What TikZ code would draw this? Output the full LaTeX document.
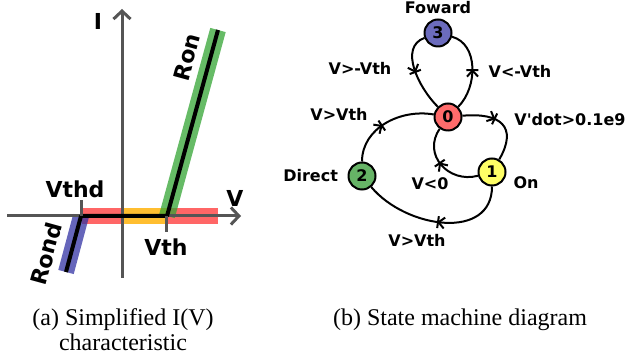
\documentclass[tikz,border=0pt]{standalone}
\usepackage{fontspec}
\setmainfont{Liberation Serif}
\setsansfont{DejaVu Sans}
\usetikzlibrary{arrows.meta,positioning,decorations.markings}
\definecolor{axgray}{HTML}{555555}
\definecolor{bred}{HTML}{FF0000}
\definecolor{byellow}{HTML}{FFBE30}
\definecolor{bgreen}{HTML}{33A433}
\definecolor{bblue}{HTML}{3333A4}
\definecolor{sblue}{HTML}{6B6BBD}
\definecolor{sred}{HTML}{FF6B6B}
\definecolor{syellow}{HTML}{FFFF66}
\definecolor{sgreen}{HTML}{66B366}
\tikzset{
  % axes and bands of the I(V) plot
  axis/.style  = {line width=3pt, draw=axgray, -{Straight Barb[length=8pt,width=17pt]}},
  band/.style  = {line width=16pt, draw=#1},
  curve/.style = {line width=4pt, black, line join=round},
  vtick/.style = {line width=3pt, axgray},
  plbl/.style  = {font=\fontsize{22}{22}\selectfont\sffamily\bfseries},
  % state machine
  state/.style = {circle, draw=black, line width=2pt, fill=#1, minimum size=27pt, inner sep=0pt,
                  font=\fontsize{16}{16}\selectfont\sffamily\bfseries},
  trans/.style = {line width=2pt, postaction={decorate}, decoration={markings,
                  mark=at position #1 with {\arrow{Straight Barb[length=6pt,width=11pt]}\arrow{Bar[width=12pt]}}}},
  trans/.default = .5,
  tlbl/.style  = {font=\fontsize{16}{16}\selectfont\sffamily\bfseries},
  subcap/.style = {font=\fontsize{24}{25}\selectfont, align=center, anchor=north},
}

\begin{document}
\begin{tikzpicture}[x=1pt,y=1pt]
\useasboundingbox (0,0) rectangle (631,358);
% I(V) characteristic
\coordinate (bot) at (66,86);
\coordinate (vthd) at (81,142);
\coordinate (vth) at (167,142);
\coordinate (top) at (218,328);
\draw[band=bred, opacity=.6] (82,142) -- (218,142);
\draw[band=byellow] (122,142) -- (vth);
\draw[band=bgreen, opacity=.75] (vth) -- (top);
\draw[band=bblue, opacity=.75] (bot) -- (vthd);
\draw[axis] (7,142) -- (241,142);
\draw[axis] (122,80) -- (122,349);
\node[plbl] (vlbl) at (235,160) {V};
\node[plbl] (ilbl) at (98,337) {I};
\draw[curve] (bot) -- (vthd) -- (vth) -- (top);
\draw[vtick] (vthd) -- ++(0,16);
\draw[vtick] (vth) ++(-1,0) -- ++(0,-16);
\node[plbl] (vthdlbl) at (75,169) {Vthd};
\node[plbl] (vthlbl) at (166,111) {Vth};
\node[plbl, rotate=74.7] (ronlbl) at (187,301) {Ron};
\node[plbl, rotate=74.7] (rondlbl) at (46,104) {Rond};
% state machine
\node[state=sblue] (n3) at (438,325) {3};
\node[state=sred] (n0) at (448,241) {0};
\node[state=syellow] (n1) at (492,186) {1};
\node[state=sgreen] (n2) at (362,182) {2};
\node[tlbl, above=1pt of n3] (fwd) {Foward};
\node[tlbl, left=6pt of n2] (dir) {Direct};
\node[tlbl] (on) at (526,175) {On};
\draw[trans] (n3) to[out=200,in=135] (n0);
\draw[trans] (n0) to[out=45,in=-15] (n3);
\draw[trans=.42] (n0) to[out=5,in=60,looseness=1.7] (n1);
\draw[trans=.55] (n1) to[out=195,in=235,looseness=1.3] (n0);
\draw[trans] (n1) to[out=270,in=-50,looseness=1.15] (n2);
\draw[trans=.45] (n2) to[out=90,in=170] (n0);
\node[tlbl] (t30) at (360,290) {V>-Vth};
\node[tlbl] (t03) at (520,287) {V<-Vth};
\node[tlbl] (t20) at (339,244) {V>Vth};
\node[tlbl] (t01) at (570,238) {V\textquotesingle dot>0.1e9};
\node[tlbl] (t10) at (430,174) {V<0};
\node[tlbl] (t12) at (417,118) {V>Vth};
% captions
\node[subcap] (capa) at (123,53) {(a) Simplified I(V)\\characteristic};
\node[subcap] (capb) at (460,53) {(b) State machine diagram};
\end{tikzpicture}
\end{document}
